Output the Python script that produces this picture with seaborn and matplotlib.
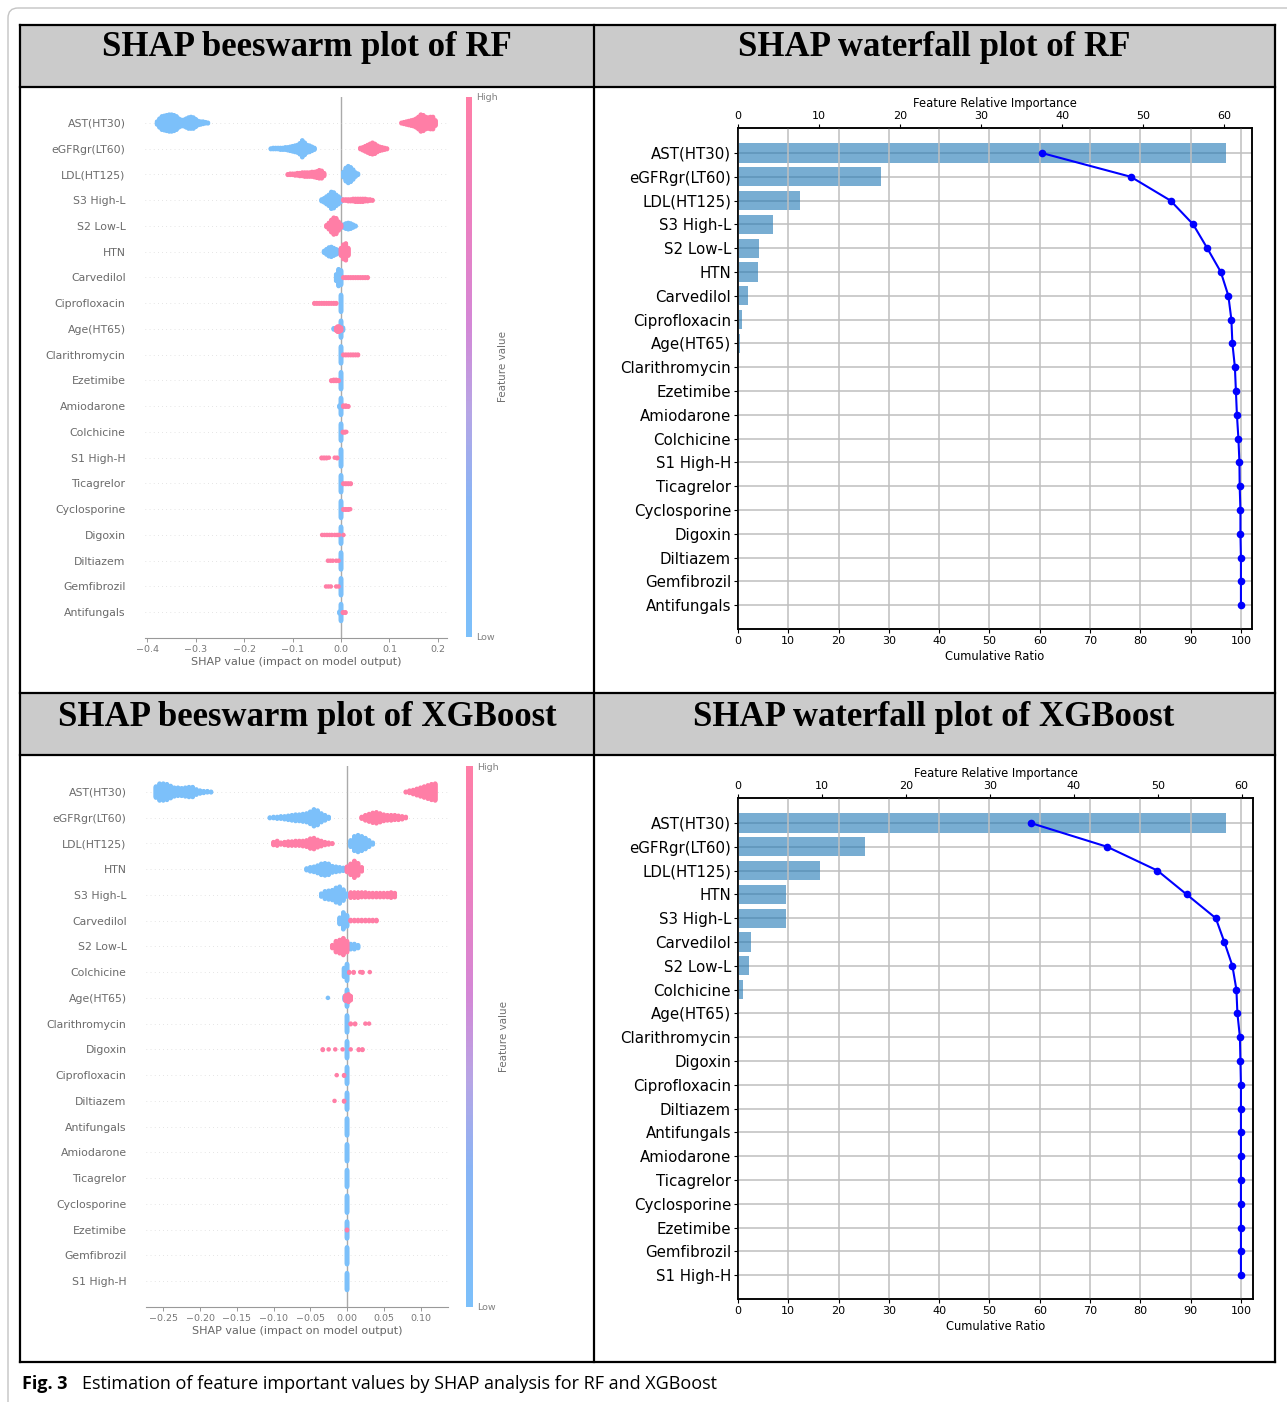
import numpy as np
import pandas as pd
import seaborn as sns
import matplotlib.pyplot as plt
from matplotlib.colors import LinearSegmentedColormap
from matplotlib.cm import ScalarMappable
from matplotlib.patches import Rectangle, FancyBboxPatch

# ---------------- data ----------------
RF_FEATURES = ["AST(HT30)", "eGFRgr(LT60)", "LDL(HT125)", "S3 High-L", "S2 Low-L", "HTN",
               "Carvedilol", "Ciprofloxacin", "Age(HT65)", "Clarithromycin", "Ezetimibe",
               "Amiodarone", "Colchicine", "S1 High-H", "Ticagrelor", "Cyclosporine",
               "Digoxin", "Diltiazem", "Gemfibrozil", "Antifungals"]
RF_IMPORTANCE = [60.2, 17.6, 7.6, 4.35, 2.65, 2.5, 1.25, 0.5, 0.3, 0.12,
                 0.08, 0.08, 0.06, 0.06, 0.04, 0.03, 0.03, 0.02, 0.02, 0.01]
RF_CUMULATIVE = [60.4, 78.1, 86.0, 90.5, 93.3, 96.0, 97.5, 98.1, 98.3, 98.8,
                 99.0, 99.2, 99.5, 99.7, 99.75, 99.9, 99.9, 100, 100, 100]

XGB_FEATURES = ["AST(HT30)", "eGFRgr(LT60)", "LDL(HT125)", "HTN", "S3 High-L", "Carvedilol",
                "S2 Low-L", "Colchicine", "Age(HT65)", "Clarithromycin", "Digoxin",
                "Ciprofloxacin", "Diltiazem", "Antifungals", "Amiodarone", "Ticagrelor",
                "Cyclosporine", "Ezetimibe", "Gemfibrozil", "S1 High-H"]
XGB_IMPORTANCE = [58.1, 15.1, 9.8, 5.7, 5.7, 1.6, 1.3, 0.65, 0.08, 0.06,
                  0.05, 0.04, 0.03, 0.02, 0.02, 0.01, 0.01, 0.01, 0.01, 0.01]
XGB_CUMULATIVE = [58.2, 73.4, 83.4, 89.2, 95.0, 96.7, 98.3, 99.1, 99.3, 99.8,
                  99.9, 100, 100, 100, 100, 100, 100, 100, 100, 100]

# beeswarm: per feature, (SHAP value, number of samples) for low / high feature values
RF_SHAP_LOW = [
    [(-0.380, 6), (-0.375, 16), (-0.370, 24), (-0.365, 26), (-0.360, 28), (-0.355, 30),
     (-0.350, 30), (-0.345, 28), (-0.340, 24), (-0.335, 16), (-0.330, 12), (-0.325, 12),
     (-0.320, 16), (-0.315, 20), (-0.310, 21), (-0.305, 20), (-0.300, 14), (-0.295, 8),
     (-0.290, 6), (-0.285, 5), (-0.280, 3), (-0.275, 2)],
    [(-0.145, 2), (-0.140, 3), (-0.135, 3), (-0.130, 3), (-0.125, 4), (-0.120, 4),
     (-0.115, 5), (-0.110, 6), (-0.105, 8), (-0.100, 10), (-0.095, 12), (-0.090, 14),
     (-0.085, 20), (-0.080, 30), (-0.075, 22), (-0.070, 14), (-0.065, 12), (-0.060, 8),
     (-0.055, 4)],
    [(0.005, 10), (0.010, 24), (0.015, 30), (0.020, 26), (0.025, 18), (0.030, 8), (0.035, 3)],
    [(-0.040, 4), (-0.035, 8), (-0.030, 14), (-0.025, 20), (-0.020, 30), (-0.015, 28),
     (-0.010, 20), (-0.005, 14), (0.000, 6)],
    [(0.005, 6), (0.010, 10), (0.015, 12), (0.020, 10), (0.025, 6), (0.030, 2)],
    [(-0.035, 4), (-0.030, 10), (-0.025, 16), (-0.020, 18), (-0.015, 14), (-0.010, 10),
     (-0.005, 6)],
    [(-0.010, 12), (-0.005, 30), (0.000, 26)],
    [(0.000, 30)],
    [(-0.015, 3), (-0.005, 8), (0.000, 30), (0.004, 6)],
    [(0.000, 30)],
    [(0.000, 30)],
    [(-0.003, 4), (0.000, 30)],
    [(0.000, 30)],
    [(0.000, 30)],
    [(0.000, 30)],
    [(0.000, 30)],
    [(0.000, 30)],
    [(0.000, 30)],
    [(0.000, 30)],
    [(-0.003, 4), (0.000, 30)],
]
RF_SHAP_HIGH = [
    [(0.125, 2), (0.130, 4), (0.135, 6), (0.140, 8), (0.145, 10), (0.150, 12), (0.155, 16),
     (0.160, 22), (0.165, 30), (0.170, 28), (0.175, 22), (0.180, 20), (0.185, 22),
     (0.190, 22), (0.195, 10)],
    [(0.040, 3), (0.045, 6), (0.050, 10), (0.055, 14), (0.060, 18), (0.065, 21), (0.070, 18),
     (0.075, 12), (0.080, 8), (0.085, 6), (0.090, 4), (0.095, 2)],
    [(-0.110, 2), (-0.105, 3), (-0.100, 3), (-0.095, 4), (-0.090, 5), (-0.085, 6),
     (-0.080, 7), (-0.075, 8), (-0.070, 8), (-0.065, 8), (-0.060, 9), (-0.055, 10),
     (-0.050, 12), (-0.045, 15), (-0.040, 14), (-0.035, 6)],
    [(0.005, 3), (0.010, 3), (0.015, 4), (0.020, 4), (0.025, 5), (0.030, 6), (0.035, 6),
     (0.040, 6), (0.045, 6), (0.050, 5), (0.055, 4), (0.060, 3), (0.065, 2)],
    [(-0.030, 4), (-0.025, 12), (-0.020, 22), (-0.015, 30), (-0.010, 28), (-0.005, 16),
     (0.000, 6)],
    [(0.000, 14), (0.005, 26), (0.010, 30), (0.015, 14)],
    [(0.005, 2), (0.010, 2), (0.015, 2), (0.020, 2), (0.025, 2), (0.030, 2), (0.035, 2),
     (0.040, 2), (0.045, 2), (0.050, 2), (0.055, 2)],
    [(-0.055, 2), (-0.050, 2), (-0.045, 2), (-0.040, 2), (-0.035, 2), (-0.030, 2),
     (-0.025, 2), (-0.020, 2), (-0.015, 2), (-0.010, 2)],
    [(-0.010, 6), (-0.007, 10), (-0.004, 10), (0.000, 6)],
    [(0.005, 2), (0.010, 2), (0.015, 2), (0.020, 2), (0.025, 2), (0.030, 2), (0.035, 2)],
    [(-0.020, 2), (-0.015, 3), (-0.010, 3), (-0.005, 2)],
    [(0.005, 3), (0.010, 3), (0.015, 2)],
    [(0.004, 2), (0.008, 2), (0.011, 1)],
    [(-0.040, 2), (-0.035, 2), (-0.030, 2), (-0.025, 1), (-0.013, 1), (-0.008, 2)],
    [(0.005, 2), (0.010, 2), (0.015, 2), (0.020, 2)],
    [(0.005, 2), (0.010, 2), (0.015, 2), (0.019, 1)],
    [(-0.039, 1), (-0.034, 1), (-0.029, 1), (-0.024, 1), (-0.019, 1), (-0.013, 1),
     (-0.008, 1), (-0.004, 1), (0.005, 1)],
    [(-0.027, 1), (-0.022, 1), (-0.017, 1), (-0.010, 1), (-0.005, 1)],
    [(-0.031, 1), (-0.026, 1), (-0.021, 1), (-0.010, 1), (-0.005, 1)],
    [(0.004, 2), (0.009, 2)],
]

XGB_SHAP_LOW = [
    [(-0.260, 20), (-0.255, 30), (-0.250, 30), (-0.245, 28), (-0.240, 22), (-0.235, 16),
     (-0.230, 15), (-0.225, 14), (-0.220, 16), (-0.215, 18), (-0.210, 18), (-0.205, 10),
     (-0.200, 6), (-0.195, 4), (-0.190, 3), (-0.185, 2)],
    [(-0.105, 2), (-0.100, 3), (-0.095, 4), (-0.090, 5), (-0.085, 6), (-0.080, 8),
     (-0.075, 10), (-0.070, 12), (-0.065, 12), (-0.060, 14), (-0.055, 16), (-0.050, 22),
     (-0.045, 30), (-0.040, 26), (-0.035, 16), (-0.030, 10), (-0.025, 4)],
    [(0.005, 12), (0.010, 26), (0.015, 30), (0.020, 26), (0.025, 20), (0.030, 12), (0.035, 4)],
    [(-0.055, 4), (-0.050, 8), (-0.045, 10), (-0.040, 14), (-0.035, 20), (-0.030, 22),
     (-0.025, 20), (-0.020, 12), (-0.015, 10), (-0.010, 8), (-0.005, 6)],
    [(-0.035, 6), (-0.030, 14), (-0.025, 16), (-0.020, 18), (-0.015, 26), (-0.010, 30),
     (-0.005, 20), (0.000, 6)],
    [(-0.010, 12), (-0.005, 30), (0.000, 20)],
    [(0.005, 10), (0.010, 10), (0.015, 6)],
    [(-0.004, 16), (0.000, 30)],
    [(-0.026, 1), (-0.003, 8), (0.000, 30)],
    [(0.000, 30)],
    [(0.000, 30)],
    [(0.000, 30)],
    [(0.000, 30)],
    [(0.000, 30)],
    [(0.000, 30)],
    [(0.000, 30)],
    [(0.000, 30)],
    [(0.000, 30)],
    [(0.000, 30)],
    [(0.000, 30)],
]
XGB_SHAP_HIGH = [
    [(0.080, 2), (0.085, 5), (0.090, 8), (0.095, 12), (0.100, 16), (0.105, 20), (0.110, 24),
     (0.115, 28), (0.120, 30)],
    [(0.020, 4), (0.025, 10), (0.030, 14), (0.035, 18), (0.040, 20), (0.045, 16), (0.050, 12),
     (0.055, 10), (0.060, 10), (0.065, 9), (0.070, 8), (0.075, 6), (0.080, 3)],
    [(-0.100, 6), (-0.095, 9), (-0.090, 4), (-0.085, 6), (-0.080, 8), (-0.075, 8),
     (-0.070, 9), (-0.065, 9), (-0.060, 10), (-0.055, 12), (-0.050, 18), (-0.045, 20),
     (-0.040, 14), (-0.035, 10), (-0.030, 6), (-0.025, 4), (-0.020, 2)],
    [(0.000, 10), (0.005, 20), (0.010, 30), (0.015, 22), (0.020, 8)],
    [(0.005, 10), (0.010, 10), (0.015, 10), (0.020, 9), (0.025, 9), (0.030, 8), (0.035, 8),
     (0.040, 8), (0.045, 8), (0.050, 8), (0.055, 8), (0.060, 10), (0.065, 8)],
    [(0.005, 3), (0.010, 3), (0.015, 3), (0.020, 3), (0.025, 3), (0.030, 3), (0.035, 3),
     (0.040, 3)],
    [(-0.020, 6), (-0.015, 20), (-0.010, 24), (-0.005, 30), (0.000, 20)],
    [(0.003, 2), (0.009, 2), (0.018, 1), (0.021, 2), (0.031, 1)],
    [(-0.002, 10), (0.002, 14), (0.005, 8)],
    [(0.005, 2), (0.011, 2), (0.025, 1), (0.030, 1)],
    [(-0.033, 2), (-0.025, 1), (-0.016, 1), (-0.006, 1), (0.005, 1), (0.016, 2), (0.021, 2)],
    [(-0.014, 1), (-0.004, 2)],
    [(-0.017, 1), (-0.004, 2)],
    [],
    [],
    [],
    [],
    [(0.000, 2)],
    [],
    [],
]

RF_TICKS = [-0.4, -0.3, -0.2, -0.1, 0.0, 0.1, 0.2]
XGB_TICKS = [-0.25, -0.20, -0.15, -0.10, -0.05, 0.00, 0.05, 0.10]

# ---------------- styling ----------------
BLUE = "#7cc0fa"
PINK = "#ff7ea6"
BAR = "#1f77b4"
FEATURE_CMAP = LinearSegmentedColormap.from_list(
    "shap_soft", [(0.0, BLUE), (0.25, "#88b4f5"), (0.42, "#b7a5e5"),
                  (0.58, "#d487d6"), (0.78, "#ec7fc0"), (1.0, PINK)])

W, H = 1287, 1402
fig = plt.figure(figsize=(W / 100, H / 100), dpi=100)


def px_box(left, top, right, bottom):
    return [left / W, 1 - bottom / H, (right - left) / W, (bottom - top) / H]


def swarm_frame(features, low, high):
    # shap-style layout: stack equal values in alternating layers around the row
    rows = []
    for i, feat in enumerate(features):
        counts = [c for _, c in low[i] + high[i]]
        scale = 0.36 / (np.ceil((max(counts) - 1) / 2) + 1)
        for level, pairs in (("Low", low[i]), ("High", high[i])):
            for val, cnt in pairs:
                layer = np.arange(cnt)
                off = np.ceil(layer / 2) * np.where(layer % 2 == 1, 1, -1)
                for o in off:
                    rows.append((feat, level, val, i + o * scale))
    return pd.DataFrame(rows, columns=["feature", "level", "shap", "ypos"])


def beeswarm(box, cbox, features, low, high, ticks, xlim):
    ax = fig.add_axes(px_box(*box))
    ax.set_facecolor("none")
    n = len(features)
    df = swarm_frame(features, low, high)
    ax.axvline(0, color="#aaaaaa", lw=1, zorder=1)
    for i in range(n):
        ax.axhline(i, color="#cccccc", lw=0.5, dashes=(1, 5), zorder=1)
    sns.scatterplot(data=df, x="shap", y="ypos", hue="level",
                    palette={"Low": BLUE, "High": PINK}, s=10.5, linewidth=0,
                    legend=False, ax=ax, zorder=3)
    ax.set_xlim(*xlim)
    ax.set_ylim(n, -1)
    ax.set_yticks(range(n))
    ax.set_yticklabels(features)
    ax.set_xticks(ticks)
    ax.tick_params(axis="y", length=0, labelsize=7.8, labelcolor="#6a6a6a", pad=14)
    ax.tick_params(axis="x", length=3, width=0.6, color="#888888", labelsize=6.8,
                   labelcolor="#777777", pad=2)
    for side in ("top", "right", "left"):
        ax.spines[side].set_visible(False)
    ax.spines["bottom"].set_color("#999999")
    ax.spines["bottom"].set_linewidth(0.8)
    ax.set_xlabel("SHAP value (impact on model output)", fontsize=8, color="#666666", labelpad=2)
    ax.set_ylabel("")

    cax = fig.add_axes(px_box(*cbox))
    cb = fig.colorbar(ScalarMappable(cmap=FEATURE_CMAP), cax=cax, ticks=[0, 1])
    cb.set_ticklabels(["Low", "High"])
    cb.outline.set_visible(False)
    cb.ax.tick_params(length=0, labelsize=6.8, labelcolor="#808080", pad=3)
    cb.set_label("Feature value", size=7.5, color="#707070", labelpad=0)


def waterfall(box, features, importance, cumulative, top_max, bottom_max):
    ax = fig.add_axes(px_box(*box))
    n = len(features)
    sns.barplot(x=importance, y=features, orient="h", color=BAR, alpha=0.6,
                saturation=1, width=0.8, errorbar=None, ax=ax)
    twin = ax.twiny()
    sns.lineplot(x=cumulative, y=list(range(n)), sort=False, estimator=None, color="#0000ff",
                 marker="o", markersize=5.5, markeredgewidth=0, linewidth=1.5, ax=twin)
    ax.xaxis.tick_top()
    ax.xaxis.set_label_position("top")
    twin.xaxis.tick_bottom()
    twin.xaxis.set_label_position("bottom")
    ax.set_xlim(0, top_max)
    twin.set_xlim(0, bottom_max)
    ax.set_ylim(n - 1 + 1.0, -1.05)
    ax.set_xticks(range(0, 61, 10))
    twin.set_xticks(range(0, 101, 10))
    twin.grid(axis="x", color="#bfbfbf", lw=1.1)
    ax.grid(axis="y", color="#bfbfbf", lw=1.1)
    ax.set_axisbelow(True)
    ax.set_xlabel("Feature Relative Importance", fontsize=8.3, labelpad=3)
    twin.set_xlabel("Cumulative Ratio", fontsize=8.3, labelpad=3)
    ax.set_ylabel("")
    ax.tick_params(axis="x", labelsize=8, pad=2, length=3)
    twin.tick_params(axis="x", labelsize=8, pad=2, length=3)
    ax.tick_params(axis="y", labelsize=10.8, pad=2, length=3)
    for a in (ax, twin):
        for sp in a.spines.values():
            sp.set_color("black")
            sp.set_linewidth(1.1)


# ---------------- page frame, headers, caption ----------------
bg = fig.add_axes([0, 0, 1, 1])
bg.set_zorder(-5)
bg.set_xlim(0, W)
bg.set_ylim(H, 0)
bg.axis("off")
bg.add_patch(FancyBboxPatch((8, 8), 1320, 1440, boxstyle="round,pad=0,rounding_size=10",
                            fc="none", ec="#c4c4c4", lw=1))
for top in (25, 693):
    bg.add_patch(Rectangle((20, top), 1255, 62, fc="#cbcbcb", ec="none"))
for y in (25, 87, 693, 755, 1362):
    bg.plot([20, 1275], [y, y], color="black", lw=1.6, solid_capstyle="projecting")
for x in (20, 594, 1275):
    bg.plot([x, x], [25, 1362], color="black", lw=1.6, solid_capstyle="projecting")

head_kw = dict(fontsize=25, fontweight="bold", family="Liberation Serif", ha="center", va="center")
bg.text(307, 48, "SHAP beeswarm plot of RF", **head_kw)
bg.text(934, 48, "SHAP waterfall plot of RF", **head_kw)
bg.text(307, 717, "SHAP beeswarm plot of XGBoost", **head_kw)
bg.text(934, 717, "SHAP waterfall plot of XGBoost", **head_kw)

bg.text(22, 1384, "Fig. 3", fontsize=13, fontweight="bold", family="Open Sans", va="center")
bg.text(82, 1384, "Estimation of feature important values by SHAP analysis for RF and XGBoost",
        fontsize=13, family="Open Sans", va="center")

# ---------------- panels ----------------
beeswarm((145, 97, 447, 638), (466, 97, 472, 637), RF_FEATURES, RF_SHAP_LOW, RF_SHAP_HIGH,
         RF_TICKS, (-0.405, 0.219))
beeswarm((146, 766, 448, 1307), (466, 766, 473, 1307), XGB_FEATURES, XGB_SHAP_LOW,
         XGB_SHAP_HIGH, XGB_TICKS, (-0.2735, 0.1374))
waterfall((738, 128, 1252, 629), RF_FEATURES, RF_IMPORTANCE, RF_CUMULATIVE, 63.4, 102.2)
waterfall((738, 798, 1253, 1299), XGB_FEATURES, XGB_IMPORTANCE, XGB_CUMULATIVE, 61.35, 102.4)

fig.savefig("out.png", dpi=100)
